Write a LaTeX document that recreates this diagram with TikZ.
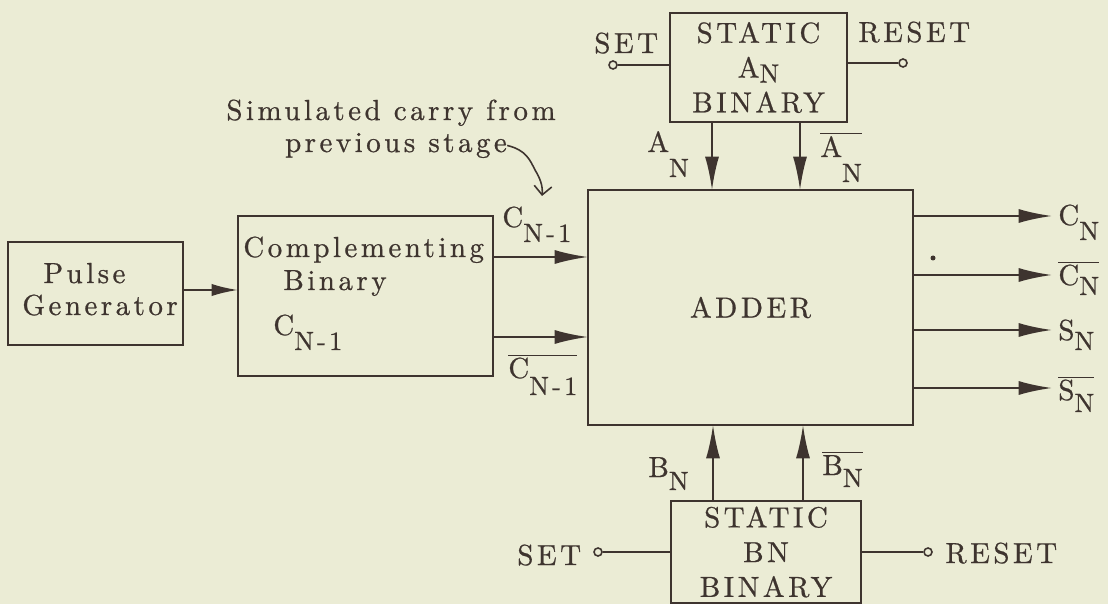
\documentclass[tikz,border=0pt]{standalone}
\usepackage{fontspec}
\setmainfont{lmroman10-regular.otf}[LetterSpace=12, FakeBold=0.7]
\usepackage{tikz}
\usetikzlibrary{arrows.meta,positioning,calc}
\definecolor{paper}{HTML}{EBECD5}
\definecolor{ink}{HTML}{3E342F}
\newlength\pxu
\setlength\pxu{0.02cm}
\newcommand{\sig}[3][15]{#2\raisebox{-#1\pxu}{\fontsize{15}{15}\selectfont #3}}
\newcommand{\inv}[1]{$\overline{\hbox{#1}}$}
\tikzset{
  blockbox/.style={draw=ink, line width=1.2pt, inner sep=0pt, outer sep=0pt, align=center},
  lbl/.style={inner sep=0pt, text=ink},
  sigline/.style={-{Latex[length=19pt, width=8pt]}, line width=1.2pt, draw=ink},
  wire/.style={line width=1.2pt, draw=ink},
  terminal/.style={circle, draw=ink, fill=paper, line width=0.9pt, minimum size=8\pxu, inner sep=0pt},
  notearrow/.style={-{Straight Barb[length=5pt]}, line width=0.9pt, draw=ink},
  speckdot/.style={circle, fill=ink, minimum size=5\pxu, inner sep=0pt}
}
\begin{document}
\begin{tikzpicture}[x=0.02cm, y=-0.02cm, font=\fontsize{16.5}{19.8}\selectfont, text=ink]
  \fill[paper] (0,0) rectangle (1108,604);
  \useasboundingbox (0,0) rectangle (1108,604);
  \node[blockbox, minimum width=175\pxu, minimum height=103\pxu] (pulse) at (95.5,293.5) {};
  \node[lbl, anchor=base west] (pulsetxt) at (43,283) {Pulse};
  \node[lbl, anchor=base west] (gentxt) at (22,315) {Generator};
  \node[blockbox, minimum width=255\pxu, minimum height=160\pxu] (comp) at (365.5,296) {};
  \node[lbl, anchor=base west] (comptxt) at (243,257) {Complementing};
  \node[lbl, anchor=base west] (bintxt) at (283,290) {Binary};
  \node[lbl, anchor=base west] (carrytxt) at (273,335) {\sig{C}{N-1}};
  \node[blockbox, minimum width=325\pxu, minimum height=235\pxu] (adder) at (750.5,307.5) {ADDER};
  \node[blockbox, minimum width=177\pxu, minimum height=109\pxu] (astat) at (758.5,67.5) {STATIC\\\sig[5]{A}{N}\\BINARY};
  \node[blockbox, minimum width=190\pxu, minimum height=102\pxu] (bstat) at (766,552) {STATIC\\BN\\BINARY};
  \node[terminal] (aset) at (613,65) {};
  \node[terminal] (areset) at (903,63) {};
  \node[terminal] (bset) at (598,552) {};
  \node[terminal] (breset) at (928,552) {};
  \draw[wire] (aset) -- (aset -| astat.west);
  \draw[wire] (areset) -- (areset -| astat.east);
  \draw[wire] (bset) -- (bset -| bstat.west);
  \draw[wire] (breset) -- (breset -| bstat.east);
  \node[lbl, anchor=base west] (asetlbl) at (594,53) {SET};
  \node[lbl, anchor=base west] (aresetlbl) at (858,42) {RESET};
  \node[lbl, anchor=base west] (bsetlbl) at (517,565) {SET};
  \node[lbl, anchor=base west] (bresetlbl) at (945,563) {RESET};
  \coordinate (pulseout) at (210,290);
  \draw[sigline, -{Latex[length=15pt, width=7pt]}] (pulse.east |- pulseout) -- (comp.west |- pulseout);
  \coordinate (carry) at (540,257);
  \coordinate (ncarry) at (540,337);
  \draw[sigline] (comp.east |- carry) -- (adder.west |- carry);
  \draw[sigline] (comp.east |- ncarry) -- (adder.west |- ncarry);
  \node[lbl, anchor=base west] (carrylbl) at (502,227) {\sig{C}{N-1}};
  \node[lbl, anchor=base west] (ncarrylbl) at (508,378) {\inv{\sig[17]{C}{N-1}}};
  \coordinate (acol) at (712,0);
  \coordinate (ancol) at (800,0);
  \coordinate (bcol) at (713,0);
  \coordinate (bncol) at (803,0);
  \draw[sigline] (astat.south -| acol) -- (adder.north -| acol);
  \draw[sigline] (astat.south -| ancol) -- (adder.north -| ancol);
  \draw[sigline] (bstat.north -| bcol) -- (adder.south -| bcol);
  \draw[sigline] (bstat.north -| bncol) -- (adder.south -| bncol);
  \node[lbl, anchor=base west] (alb) at (647,152) {\sig[25]{A}{N}};
  \node[lbl, anchor=base west] (nalb) at (820,157) {\inv{\sig[25]{A}{N}}};
  \node[lbl, anchor=base west] (blb) at (648,477) {\sig[13]{B}{N}};
  \node[lbl, anchor=base west] (nblb) at (822,475) {\inv{\sig[12]{B}{N}}};
  \foreach \n/\y in {cn/216, ncn/275, sn/330, nsn/388} {
    \coordinate (tip\n) at (1052,\y);
    \draw[sigline] (adder.east |- tip\n) -- (tip\n);
  }
  \node[lbl, anchor=base west] (cnlbl) at (1058,225) {\sig{C}{N}};
  \node[lbl, anchor=base west] (ncnlbl) at (1058,285) {\inv{\sig[10]{C}{N}}};
  \node[lbl, anchor=base west] (snlbl) at (1058,340) {\sig[10]{S}{N}};
  \node[lbl, anchor=base west] (nsnlbl) at (1058,400) {\inv{\sig[12]{S}{N}}};
  \node[speckdot] (speck) at (933,258) {};
  \node[lbl, anchor=base] (note1) at (391,120) {Simulated carry from};
  \node[lbl, anchor=base] (note2) at (396,152) {previous stage};
  \coordinate (noteend) at (542,196);
  \draw[notearrow] (note2.east) .. controls (526,150) and (530,160) .. (535,170) .. controls (540,178) and (543,186) .. (noteend);
\end{tikzpicture}
\end{document}
